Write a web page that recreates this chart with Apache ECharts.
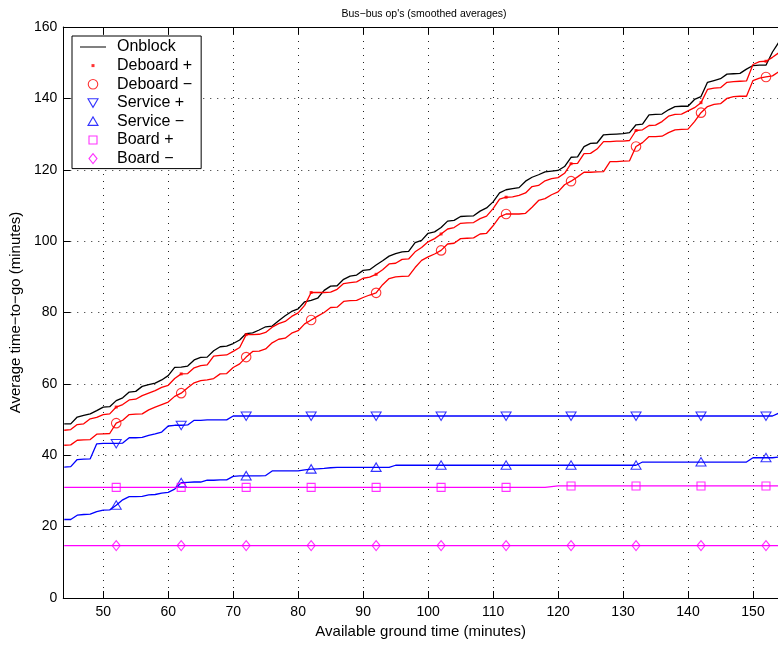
<!DOCTYPE html>
<html>
<head>
<meta charset="utf-8">
<title>Bus-bus op's</title>
<script src="https://cdn.jsdelivr.net/npm/echarts@6/dist/echarts.min.js"></script>
<style>
html, body { margin: 0; padding: 0; background: #fff; }
#chart { width: 778px; height: 645px; }
</style>
</head>
<body>
<div id="chart"></div>
<script>
// available ground time, one point per minute
const firstMinute = 44;
const lastMinute = 154;
const groundTime = [];
for (let m = firstMinute; m <= lastMinute; m++) groundTime.push(m);

// markers are drawn every 10th minute
const markerTimes = [52, 62, 72, 82, 92, 102, 112, 122, 132, 142, 152];

const onblock = [
  48.8, 48.8, 50.7, 51.2, 51.6, 52.5, 53.5, 53.6, 55.3, 56.1,
  57.7, 57.9, 59.3, 59.8, 60.2, 61.1, 62.3, 64.6, 64.7, 65.0,
  66.7, 67.4, 67.5, 69.3, 70.4, 70.6, 71.3, 72.3, 74.1, 74.3,
  75.1, 76.0, 76.2, 77.7, 79.1, 80.3, 81.0, 83.0, 83.4, 84.0,
  86.2, 87.4, 87.5, 89.3, 90.2, 90.5, 91.8, 92.0, 93.3, 94.5,
  95.8, 96.5, 97.0, 97.1, 99.6, 100.2, 102.2, 102.6, 103.8, 105.6,
  105.8, 106.9, 107.0, 107.1, 108.4, 109.3, 111.0, 113.5, 114.4, 114.7,
  115.0, 116.8, 117.9, 118.6, 119.4, 119.6, 119.8, 120.9, 123.5, 123.6,
  126.5, 127.4, 127.5, 129.8, 129.9, 130.0, 130.1, 130.4, 132.6, 132.8,
  135.4, 135.5, 135.6, 136.8, 137.7, 137.8, 137.8, 139.7, 140.5, 144.5,
  145.0, 145.5, 146.8, 146.9, 147.0, 148.2, 149.2, 149.3, 149.3, 153.0,
  155.8
];
const deboardPlus = [
  47.0, 47.2, 48.6, 48.8, 50.2, 50.6, 51.4, 51.6, 53.5, 54.2,
  55.5, 55.7, 56.7, 57.4, 58.1, 59.0, 59.6, 61.5, 62.8, 62.9,
  64.5, 65.1, 65.3, 67.8, 68.0, 68.1, 69.1, 70.2, 73.8, 73.8,
  73.9, 74.4, 75.9, 76.9, 77.5, 78.9, 79.9, 82.0, 85.6, 85.6,
  85.6, 85.7, 86.5, 88.1, 88.4, 88.6, 89.6, 89.9, 90.7, 92.0,
  93.6, 93.8, 94.9, 95.0, 97.0, 98.2, 99.8, 100.7, 102.0, 103.4,
  103.8, 105.0, 105.1, 105.2, 106.3, 107.0, 109.1, 111.8, 112.3, 112.4,
  112.8, 113.5, 115.3, 115.6, 116.9, 117.5, 117.8, 119.0, 121.7, 121.8,
  124.5, 124.6, 125.8, 127.9, 127.9, 128.0, 128.0, 128.2, 131.0, 131.2,
  132.4, 132.5, 133.5, 135.0, 135.5, 135.6, 136.5, 137.4, 138.8, 142.5,
  142.9, 143.0, 144.5, 144.7, 144.8, 144.9, 149.5, 150.3, 150.4, 151.5,
  152.8
];
const deboardMinus = [
  42.8, 42.9, 44.2, 44.3, 44.4, 45.9, 46.0, 46.1, 49.0, 49.8,
  51.4, 51.5, 51.6, 52.7, 53.5, 54.2, 54.9, 56.5, 57.4, 58.9,
  60.3, 60.9, 61.1, 61.5, 62.8, 62.9, 64.6, 65.6, 67.5, 69.1,
  69.2, 69.8, 71.5, 72.5, 72.8, 74.2, 74.9, 76.8, 77.9, 79.0,
  80.0, 81.4, 81.5, 83.1, 83.3, 83.4, 84.2, 84.9, 85.5, 87.8,
  89.5, 90.0, 90.1, 90.2, 92.6, 94.6, 95.6, 96.4, 97.4, 99.2,
  99.4, 100.7, 100.8, 100.9, 102.0, 102.2, 104.3, 106.8, 107.6, 107.6,
  107.6, 107.8, 109.5, 111.4, 111.9, 113.0, 113.8, 115.8, 116.8, 118.0,
  119.3, 119.3, 119.4, 119.5, 122.3, 122.3, 122.4, 122.5, 126.5, 127.6,
  129.3, 129.3, 129.4, 130.4, 131.2, 131.3, 131.4, 133.5, 136.0, 137.7,
  138.3, 138.5, 140.0, 140.5, 140.6, 140.6, 145.0, 145.7, 146.0, 146.3,
  147.5
];
const servicePlus = [
  36.7, 36.8, 38.8, 38.9, 39.0, 43.2, 43.3, 43.3, 43.3, 43.4,
  44.9, 44.9, 45.0, 45.6, 46.0, 46.5, 48.2, 48.4, 48.4, 48.5,
  49.8, 49.8, 49.9, 49.9, 49.9, 49.9, 51.0, 51.0, 51.0, 51.0,
  51.0, 51.0, 51.0, 51.0, 51.0, 51.0, 51.0, 51.0, 51.0, 51.0,
  51.0, 51.0, 51.0, 51.0, 51.0, 51.0, 51.0, 51.0, 51.0, 51.0,
  51.0, 51.0, 51.0, 51.0, 51.0, 51.0, 51.0, 51.0, 51.0, 51.0,
  51.0, 51.0, 51.0, 51.0, 51.0, 51.0, 51.0, 51.0, 51.0, 51.0,
  51.0, 51.0, 51.0, 51.0, 51.0, 51.0, 51.0, 51.0, 51.0, 51.0,
  51.0, 51.0, 51.0, 51.0, 51.0, 51.0, 51.0, 51.0, 51.0, 51.0,
  51.0, 51.0, 51.0, 51.0, 51.0, 51.0, 51.0, 51.0, 51.0, 51.0,
  51.0, 51.0, 51.0, 51.0, 51.0, 51.0, 51.0, 51.0, 51.0, 51.0,
  51.8
];
const serviceMinus = [
  22.0, 22.0, 23.2, 23.4, 23.5, 24.2, 24.6, 24.7, 26.0, 27.5,
  28.4, 28.4, 28.5, 28.9, 29.0, 29.4, 29.6, 30.5, 32.3, 32.4,
  32.5, 32.5, 33.0, 33.0, 33.1, 33.1, 34.1, 34.2, 34.2, 34.2,
  34.2, 34.3, 35.6, 35.6, 35.6, 35.6, 35.6, 35.9, 36.1, 36.2,
  36.3, 36.5, 36.6, 36.6, 36.6, 36.6, 36.6, 36.6, 36.6, 36.6,
  36.6, 37.2, 37.2, 37.2, 37.2, 37.2, 37.2, 37.2, 37.2, 37.2,
  37.2, 37.2, 37.2, 37.2, 37.2, 37.2, 37.2, 37.2, 37.2, 37.2,
  37.2, 37.2, 37.2, 37.2, 37.2, 37.2, 37.2, 37.2, 37.2, 37.2,
  37.2, 37.2, 37.2, 37.2, 37.2, 37.2, 37.2, 37.2, 37.2, 38.1,
  38.1, 38.1, 38.1, 38.1, 38.1, 38.1, 38.1, 38.1, 38.1, 38.1,
  38.1, 38.1, 38.1, 38.1, 38.1, 38.1, 39.3, 39.3, 39.3, 39.3,
  39.5
];
const boardPlus = [
  31.0, 31.0, 31.0, 31.0, 31.0, 31.0, 31.0, 31.0, 31.0, 31.0,
  31.0, 31.0, 31.0, 31.0, 31.0, 31.0, 31.0, 31.0, 31.0, 31.0,
  31.0, 31.0, 31.0, 31.0, 31.0, 31.0, 31.0, 31.0, 31.0, 31.0,
  31.0, 31.0, 31.0, 31.0, 31.0, 31.0, 31.0, 31.0, 31.0, 31.0,
  31.0, 31.0, 31.0, 31.0, 31.0, 31.0, 31.0, 31.0, 31.0, 31.0,
  31.0, 31.0, 31.0, 31.0, 31.0, 31.0, 31.0, 31.0, 31.0, 31.0,
  31.0, 31.0, 31.0, 31.0, 31.0, 31.0, 31.0, 31.0, 31.0, 31.0,
  31.0, 31.0, 31.0, 31.0, 31.0, 31.2, 31.4, 31.4, 31.4, 31.4,
  31.4, 31.4, 31.4, 31.4, 31.4, 31.4, 31.4, 31.4, 31.4, 31.4,
  31.4, 31.4, 31.4, 31.4, 31.4, 31.4, 31.4, 31.4, 31.4, 31.4,
  31.4, 31.4, 31.4, 31.4, 31.4, 31.4, 31.4, 31.4, 31.4, 31.4,
  31.4
];
const boardMinus = [
  14.7, 14.7, 14.7, 14.7, 14.7, 14.7, 14.7, 14.7, 14.7, 14.7,
  14.7, 14.7, 14.7, 14.7, 14.7, 14.7, 14.7, 14.7, 14.7, 14.7,
  14.7, 14.7, 14.7, 14.7, 14.7, 14.7, 14.7, 14.7, 14.7, 14.7,
  14.7, 14.7, 14.7, 14.7, 14.7, 14.7, 14.7, 14.7, 14.7, 14.7,
  14.7, 14.7, 14.7, 14.7, 14.7, 14.7, 14.7, 14.7, 14.7, 14.7,
  14.7, 14.7, 14.7, 14.7, 14.7, 14.7, 14.7, 14.7, 14.7, 14.7,
  14.7, 14.7, 14.7, 14.7, 14.7, 14.7, 14.7, 14.7, 14.7, 14.7,
  14.7, 14.7, 14.7, 14.7, 14.7, 14.7, 14.7, 14.7, 14.7, 14.7,
  14.7, 14.7, 14.7, 14.7, 14.7, 14.7, 14.7, 14.7, 14.7, 14.7,
  14.7, 14.7, 14.7, 14.7, 14.7, 14.7, 14.7, 14.7, 14.7, 14.7,
  14.7, 14.7, 14.7, 14.7, 14.7, 14.7, 14.7, 14.7, 14.7, 14.7,
  14.7
];

const FONT = '"Liberation Sans", Arial, Helvetica, sans-serif';

// marker shapes, all on an 11x11 box so the size stays the same
const shapes = {
  line: 'path://M0,0L26,0L26,1L0,1Z',
  dot: 'path://M0,0M11,11M4,4L7,4L7,7L4,7Z',
  circle: 'path://M0,0M11,11M10.25,5.5A4.75,4.75,0,1,1,0.75,5.5A4.75,4.75,0,1,1,10.25,5.5Z',
  triDown: 'path://M0,0M11,11M0.5,1.5L10.5,1.5L5.5,10Z',
  triUp: 'path://M0,0M11,11M0.5,9.5L10.5,9.5L5.5,1Z',
  square: 'path://M0,0M11,11M1.5,1.5L9.5,1.5L9.5,9.5L1.5,9.5Z',
  diamond: 'path://M0,0M11,11M5.5,0.5L9.5,5.5L5.5,10.5L1.5,5.5Z'
};

const lines = [
  { name: 'Onblock', values: onblock, color: '#000000', shape: 'line' },
  { name: 'Deboard +', values: deboardPlus, color: '#ff0000', shape: 'dot' },
  { name: 'Deboard \u2212', values: deboardMinus, color: '#ff0000', shape: 'circle' },
  { name: 'Service +', values: servicePlus, color: '#0000ff', shape: 'triDown' },
  { name: 'Service \u2212', values: serviceMinus, color: '#0000ff', shape: 'triUp' },
  { name: 'Board +', values: boardPlus, color: '#ff00ff', shape: 'square' },
  { name: 'Board \u2212', values: boardMinus, color: '#ff00ff', shape: 'diamond' }
];

function markStyle(l) {
  if (l.shape === 'dot') return { color: l.color, borderWidth: 0 };
  return { color: 'transparent', borderColor: l.color, borderWidth: 1.1 };
}

const series = [];
lines.forEach(function (l) {
  if (l.shape !== 'line') {
    series.push({
      name: l.name,
      type: 'scatter',
      symbol: shapes[l.shape],
      symbolSize: 11,
      itemStyle: markStyle(l),
      z: 3,
      silent: true,
      data: markerTimes.map(function (t) {
        return [t, l.values[groundTime.indexOf(t)]];
      })
    });
  }
  series.push({
    name: l.name,
    type: 'line',
    symbol: 'none',
    lineStyle: { color: l.color, width: 1.3 },
    itemStyle: { color: l.color },
    z: 2,
    silent: true,
    data: groundTime.map(function (t, i) { return [t, l.values[i]]; })
  });
});

const chart = echarts.init(document.getElementById('chart'), null, { renderer: 'canvas' });
chart.setOption({
  animation: false,
  backgroundColor: '#fff',
  textStyle: { fontFamily: FONT },
  title: {
    text: 'Bus\u2212bus op\'s (smoothed averages)',
    left: 419,
    textAlign: 'center',
    top: 4,
    textStyle: { fontFamily: FONT, fontSize: 10.5, fontWeight: 'normal', color: '#000' }
  },
  grid: { left: 63, right: 0, top: 27, bottom: 47 },
  legend: {
    orient: 'vertical',
    left: 72,
    top: 36,
    itemWidth: 26,
    itemHeight: 11,
    itemGap: 2.6,
    padding: [3, 9, 2, 8],
    backgroundColor: '#fff',
    borderColor: '#000',
    borderWidth: 1,
    selectedMode: false,
    textStyle: { fontFamily: FONT, fontSize: 16, color: '#000', padding: [0, 0, 0, 6] },
    data: lines.map(function (l) {
      return {
        name: l.name,
        icon: shapes[l.shape],
        itemStyle: l.shape === 'line' ? { color: l.color, borderWidth: 0 } : markStyle(l)
      };
    })
  },
  xAxis: [
    {
      type: 'value',
      min: 43.85,
      max: 153.85,
      splitNumber: 11,
      name: 'Available ground time (minutes)',
      nameLocation: 'middle',
      nameGap: 26,
      nameTextStyle: { fontFamily: FONT, fontSize: 15, color: '#000' },
      axisLine: { onZero: false, lineStyle: { color: '#000', width: 1 } },
      axisTick: { inside: true, length: 7, lineStyle: { color: '#000' } },
      axisLabel: { margin: 7, fontFamily: FONT, fontSize: 14, color: '#000', showMinLabel: false, showMaxLabel: false },
      splitLine: { show: true, lineStyle: { color: '#222', type: [1, 6], width: 1 } }
    },
    {
      type: 'value',
      position: 'top',
      min: 43.85,
      max: 153.85,
      splitNumber: 11,
      axisLine: { onZero: false, lineStyle: { color: '#000', width: 1 } },
      axisTick: { inside: true, length: 7, lineStyle: { color: '#000' } },
      axisLabel: { show: false },
      splitLine: { show: false }
    }
  ],
  yAxis: {
    type: 'value',
    min: 0,
    max: 160,
    interval: 20,
    name: 'Average time\u2212to\u2212go (minutes)',
    nameLocation: 'middle',
    nameGap: 40,
    nameTextStyle: { fontFamily: FONT, fontSize: 15, color: '#000' },
    axisLine: { show: true, lineStyle: { color: '#000', width: 1 } },
    axisTick: { show: true, inside: true, length: 7, lineStyle: { color: '#000' } },
    axisLabel: { margin: 6, fontFamily: FONT, fontSize: 14, color: '#000' },
    splitLine: { show: true, lineStyle: { color: '#222', type: [1, 6], width: 1 } }
  },
  series: series
});
</script>
</body>
</html>
